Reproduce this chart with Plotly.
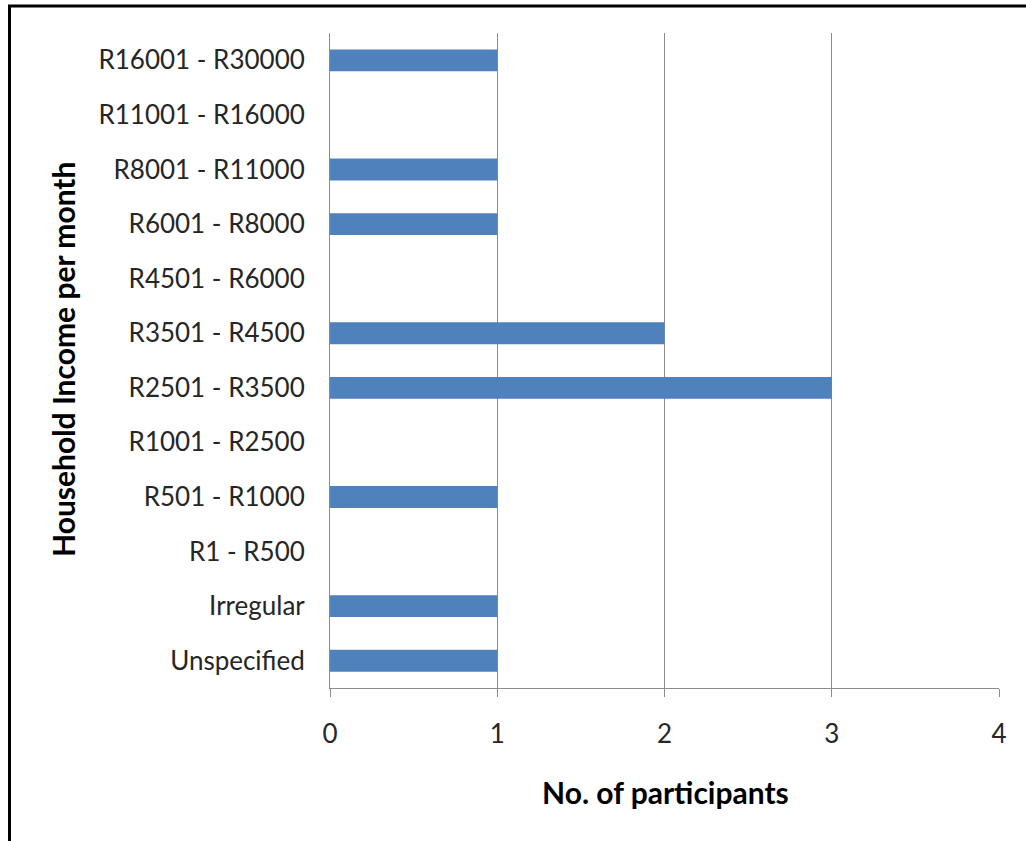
import plotly.graph_objects as go

categories = ["Unspecified", "Irregular", "R1 - R500", "R501 - R1000", "R1001 - R2500",
              "R2501 - R3500", "R3501 - R4500", "R4501 - R6000", "R6001 - R8000",
              "R8001 - R11000", "R11001 - R16000", "R16001 - R30000"]
participants = [1, 1, 0, 1, 0, 3, 2, 0, 1, 1, 0, 1]
x_ticks = [0, 1, 2, 3, 4]

W, H = 1026, 841
L, R, T, B = 330, 999, 33, 688

def px(x):
    return (x - L) / (R - L)

def py(y):
    return (B - y) / (B - T)

FONT = "Lato"

fig = go.Figure(go.Bar(
    x=participants, y=categories, orientation="h",
    marker=dict(color="#4F81BD", line=dict(width=0)),
))

fig.update_layout(
    width=W, height=H,
    margin=dict(l=L, r=W - R, t=T, b=H - B, pad=0),
    paper_bgcolor="white", plot_bgcolor="white",
    bargap=0.6, showlegend=False,
    font=dict(family=FONT, size=26, color="#262626"),
    xaxis=dict(range=[0, 4], tickvals=x_ticks, showgrid=True, gridcolor="#8C8C8C", gridwidth=1,
               showline=True, linecolor="#8C8C8C", linewidth=1,
               ticks="outside", ticklen=8, tickcolor="#8C8C8C",
               ticklabelstandoff=15,
               tickfont=dict(family=FONT, size=26, color="#262626"),
               zeroline=False, fixedrange=True),
    yaxis=dict(categoryorder="array", categoryarray=categories,
               showgrid=False, showline=True, linecolor="#8C8C8C", linewidth=1,
               ticks="", ticklabelstandoff=19,
               tickfont=dict(family=FONT, size=26, color="#262626"),
               zeroline=False, fixedrange=True),
    annotations=[
        dict(text="<b>No. of participants</b>", xref="paper", yref="paper",
             x=px(665), y=py(792), xanchor="center", yanchor="middle", showarrow=False,
             font=dict(family=FONT, size=30, color="black")),
        dict(text="<b>Household Income per month</b>", xref="paper", yref="paper",
             x=px(63), y=py(360), xanchor="center", yanchor="middle", showarrow=False,
             textangle=-90, font=dict(family=FONT, size=30, color="black")),
    ],
    shapes=[
        dict(type="line", xref="paper", yref="paper", x0=px(8), x1=px(W + 5), y0=py(6), y1=py(6),
             line=dict(color="black", width=3)),
        dict(type="line", xref="paper", yref="paper", x0=px(9.5), x1=px(9.5), y0=py(5), y1=py(H + 5),
             line=dict(color="black", width=3)),
    ],
)

fig.write_html("out.html")
